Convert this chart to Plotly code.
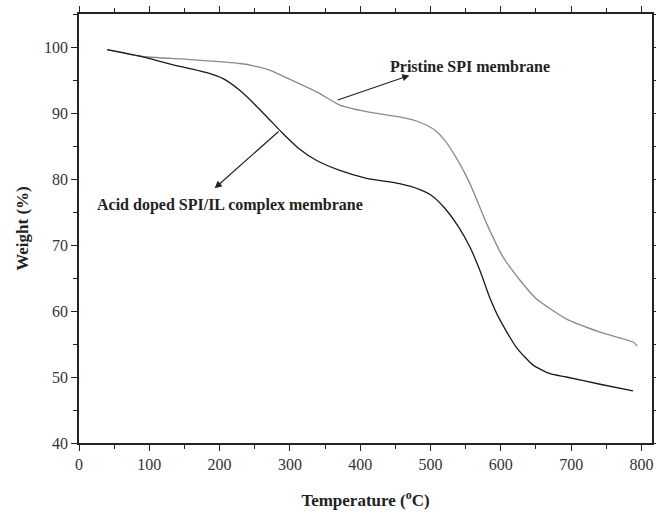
import plotly.graph_objects as go

# Temperature (°C) and weight (%)
temp_pristine = [40, 87, 158, 229, 250, 271, 290, 338, 371, 409, 456, 485, 505, 520, 540, 556, 580, 603, 627, 650, 693, 741, 788, 794]
wt_pristine   = [99.6, 98.6, 98.1, 97.5, 97.1, 96.5, 95.6, 93.2, 91.2, 90.2, 89.4, 88.6, 87.5, 85.9, 82.6, 79.3, 73.2, 68.2, 64.7, 61.9, 58.8, 56.8, 55.3, 54.7]

temp_doped = [40, 87, 134, 182, 205, 229, 250, 270, 290, 314, 338, 371, 409, 456, 485, 500, 520, 540, 556, 570, 584, 598, 622, 646, 670, 693, 741, 788]
wt_doped   = [99.6, 98.6, 97.3, 96.1, 95.2, 93.4, 91.3, 89.1, 86.9, 84.5, 82.8, 81.3, 80.1, 79.3, 78.4, 77.6, 75.6, 72.7, 69.7, 66.2, 62.1, 58.8, 54.5, 51.8, 50.5, 50.0, 48.9, 47.9]

x_ticks = [0, 100, 200, 300, 400, 500, 600, 700, 800]
y_ticks = [40, 50, 60, 70, 80, 90, 100]

fig = go.Figure()
fig.add_trace(go.Scatter(x=temp_pristine, y=wt_pristine, mode="lines",
                         line=dict(color="#8a8a8a", width=1.3, shape="spline", smoothing=0.6),
                         showlegend=False))
fig.add_trace(go.Scatter(x=temp_doped, y=wt_doped, mode="lines",
                         line=dict(color="#1a1a1a", width=1.3, shape="spline", smoothing=0.6),
                         showlegend=False))

font_serif = "Liberation Serif, Times New Roman, serif"

axis_common = dict(showline=True, linecolor="#222", linewidth=1.5, mirror="ticks",
                   ticks="outside", ticklen=6, tickwidth=1.3, tickcolor="#222",
                   showgrid=False, zeroline=False, automargin=False,
                   tickfont=dict(family=font_serif, size=16, color="#333"))

fig.update_xaxes(range=[0, 815], tickvals=x_ticks,
                 minor=dict(ticks="outside", dtick=50, tick0=0, ticklen=4, tickcolor="#222", tickwidth=1.3),
                 title=dict(text="<b>Temperature (<sup>o</sup>C)</b>",
                            font=dict(family=font_serif, size=17, color="#222"), standoff=22),
                 **axis_common)
fig.update_yaxes(range=[40, 105], tickvals=y_ticks,
                 minor=dict(ticks="outside", dtick=5, tick0=40, ticklen=4, tickcolor="#222", tickwidth=1.3),
                 title=dict(text="<b>Weight (%)</b>",
                            font=dict(family=font_serif, size=17, color="#222"), standoff=11),
                 **axis_common)

# arrows (head near label, tail on curve)
fig.add_annotation(x=470, y=95.7, ax=366, ay=91.9, axref="x", ayref="y", xref="x", yref="y",
                   text="", showarrow=True, arrowhead=2, arrowsize=1.2, arrowwidth=1.2, arrowcolor="#222")
fig.add_annotation(x=193, y=78.6, ax=286, ay=87.4, axref="x", ayref="y", xref="x", yref="y",
                   text="", showarrow=True, arrowhead=2, arrowsize=1.2, arrowwidth=1.2, arrowcolor="#222")

fig.add_annotation(x=556, y=97.1, xref="x", yref="y", text="<b>Pristine SPI membrane</b>",
                   showarrow=False, font=dict(family=font_serif, size=16, color="#222"))
fig.add_annotation(x=215, y=76.0, xref="x", yref="y", text="<b>Acid doped SPI/IL complex membrane</b>",
                   showarrow=False, font=dict(family=font_serif, size=16, color="#222"))

fig.update_layout(width=656, height=517, margin=dict(l=79, r=4, t=14, b=74),
                  plot_bgcolor="white", paper_bgcolor="white")

fig.write_html("out.html")
